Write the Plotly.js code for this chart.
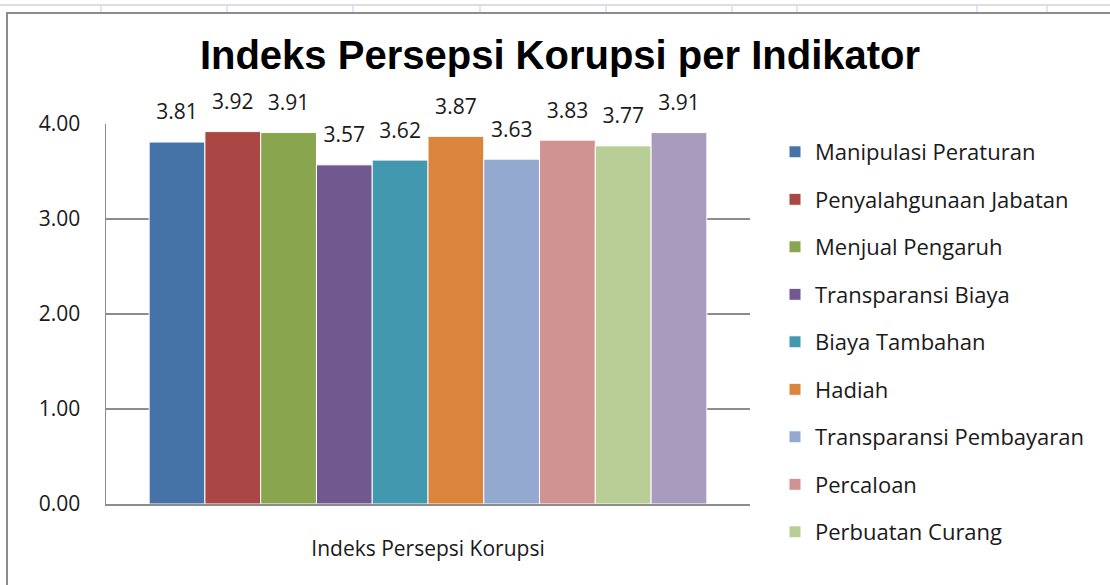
<!DOCTYPE html>
<html>
<head>
<meta charset="utf-8">
<script src="https://cdn.plot.ly/plotly-3.0.1.min.js"></script>
<style>html,body{margin:0;padding:0;background:#fff;}#chart{width:1110px;height:585px;}</style>
</head>
<body>
<div id="chart"></div>
<script>
// ---- data ----
const category = ["Indeks Persepsi Korupsi"];
const indicators = [
  "Manipulasi Peraturan",
  "Penyalahgunaan Jabatan",
  "Menjual Pengaruh",
  "Transparansi Biaya",
  "Biaya Tambahan",
  "Hadiah",
  "Transparansi Pembayaran",
  "Percaloan",
  "Perbuatan Curang",
  "Lainnya"
];
const values = [3.81, 3.92, 3.91, 3.57, 3.62, 3.87, 3.63, 3.83, 3.77, 3.91];
const colors = ["#4572A7", "#AA4643", "#89A54E", "#71588F", "#4198AF",
                "#DB843D", "#93A9CF", "#D19392", "#B9CD96", "#A99BBD"];
const legendShown = [true, true, true, true, true, true, true, true, true, false];
const yTicks = [0, 1, 2, 3, 4];
const yTickText = ["0.00", "1.00", "2.00", "3.00", "4.00"];

// ---- layout geometry ----
const W = 1110, H = 585;
const M = {l: 106, r: 360, t: 124, b: 81};
const pw = W - M.l - M.r, ph = H - M.t - M.b;
const px = x => (x - M.l) / pw;
const py = y => (H - M.b - y) / ph;

const FONT = "Open Sans, Noto Sans, Liberation Sans, sans-serif";

const traces = indicators.map((name, i) => ({
  type: "bar",
  name: name,
  x: category,
  y: [values[i]],
  marker: {color: colors[i], line: {color: "#ffffff", width: 1}},
  text: [values[i].toFixed(2)],
  texttemplate: "<span style='font-size:21px'>%{text}</span><br> ",
  textposition: "outside",
  cliponaxis: false,
  textfont: {family: FONT, size: 12, color: "#1a1a1a"},
  showlegend: legendShown[i],
  legendgroup: "g" + i,
  hoverinfo: "name+y"
}));

const grey = "#8c8c8c";
const shapes = [
  // spreadsheet header strip
  {type: "line", xref: "paper", yref: "paper", x0: px(0), x1: px(W), y0: py(5), y1: py(5), line: {color: "#d9dfea", width: 2}},
  // chart frame
  {type: "line", xref: "paper", yref: "paper", x0: px(6), x1: px(W), y0: py(13), y1: py(13), line: {color: grey, width: 2}},
  {type: "line", xref: "paper", yref: "paper", x0: px(7), x1: px(7), y0: py(13), y1: py(H), line: {color: grey, width: 2}}
];
[101, 227, 353, 480, 606, 732, 797, 977, 1047].forEach(x => {
  shapes.push({type: "line", xref: "paper", yref: "paper", x0: px(x), x1: px(x), y0: py(5), y1: py(12), line: {color: "#d9dfea", width: 1.5}});
});

const layout = {
  width: W, height: H,
  margin: M,
  paper_bgcolor: "#ffffff",
  plot_bgcolor: "#ffffff",
  barmode: "group",
  bargap: 0.134,
  bargroupgap: 0,
  title: {
    text: "<b>Indeks Persepsi Korupsi per Indikator</b>",
    font: {family: "Liberation Sans, Arial, sans-serif", size: 40, color: "#000000"},
    x: 560 / W, xanchor: "center", xref: "container",
    y: 1 - 55 / H, yanchor: "middle"
  },
  xaxis: {
    type: "category",
    showgrid: false,
    showline: true, linecolor: grey, linewidth: 1.5,
    ticks: "",
    ticklabelstandoff: 25,
    tickfont: {family: FONT, size: 21, color: "#1a1a1a"},
    fixedrange: true
  },
  yaxis: {
    range: [0, 4],
    tickvals: yTicks,
    ticktext: yTickText,
    showgrid: true, gridcolor: grey, gridwidth: 1.5,
    showline: true, linecolor: grey, linewidth: 1.5,
    zeroline: false,
    ticks: "",
    ticklabelstandoff: 20,
    tickfont: {family: FONT, size: 21, color: "#1a1a1a"},
    fixedrange: true
  },
  legend: {
    x: px(775), xanchor: "left",
    y: py(131), yanchor: "top",
    font: {family: FONT, size: 22, color: "#1a1a1a"},
    traceorder: "grouped",
    tracegroupgap: 15.9,
    maxheight: 1000,
    bgcolor: "rgba(0,0,0,0)",
    borderwidth: 0
  },
  shapes: shapes,
  showlegend: true
};

Plotly.newPlot("chart", traces, layout, {displayModeBar: false, staticPlot: true});
</script>
</body>
</html>
